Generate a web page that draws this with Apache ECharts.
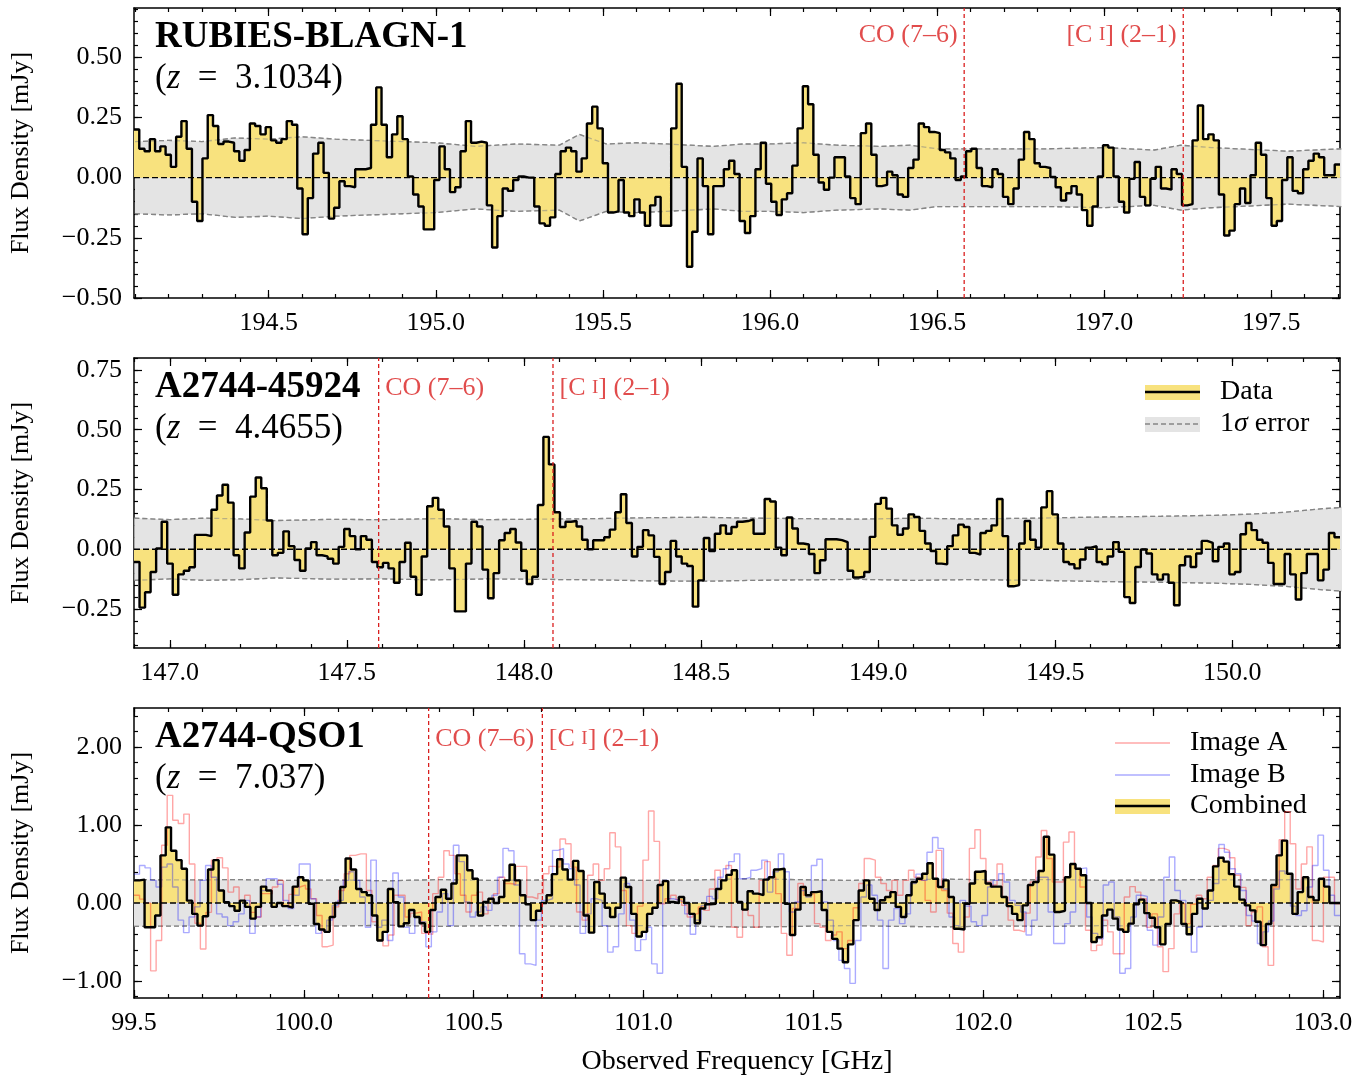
<!DOCTYPE html>
<html>
<head>
<meta charset="utf-8">
<script src="https://cdn.jsdelivr.net/npm/echarts@6/dist/echarts.min.js"></script>
<style>
  html, body { margin: 0; padding: 0; background: #fff; }
  #chart { width: 1366px; height: 1079px; }
</style>
</head>
<body>
<div id="chart"></div>
<script>
// rest frequencies (GHz) of the marked lines
const REST_CO76 = 806.6518;
const REST_CI21 = 809.3420;

// ---- panel 1 : RUBIES-BLAGN-1 ----
const P1_FLUX = [
  0.20, 0.12, 0.11, 0.16, 0.11, 0.13, 0.095, 0.045, 0.17, 0.235, 0.12, -0.10, -0.18, 0.08, 0.26, 0.215,
  0.14, 0.15, 0.145, 0.11, 0.07, 0.115, 0.225, 0.215, 0.18, 0.21, 0.155, 0.145, 0.16, 0.235, 0.22, -0.045,
  -0.235, -0.085, 0.10, 0.145, 0.02, -0.17, -0.125, -0.015, -0.035, -0.04, 0.035, 0.035, 0.04, 0.22, 0.375,
  0.22, 0.085, 0.18, 0.255, 0.16, 0.005, -0.07, -0.12, -0.215, -0.215, -0.01,
  0.13, 0.035, -0.06, -0.04, 0.11, 0.235, 0.145, 0.15, 0.145, -0.115, -0.29, -0.16, -0.045, -0.055, -0.01,
  0.005, 0.0, 0.0, -0.12, -0.19, -0.20, -0.165, 0.015, 0.11, 0.125, 0.11, 0.025, 0.08, 0.225, 0.295, 0.205,
  0.06, -0.145, -0.14, -0.01, -0.145, -0.16, -0.09, -0.145, -0.20, -0.115, -0.08, -0.20, -0.20, 0.205, 0.39,
  0.045, -0.37, -0.225, 0.08, -0.035, -0.235, -0.035, -0.035, 0.035, 0.07, 0.015, -0.18,
  -0.23, -0.16, 0.035, 0.145, -0.025, -0.10, -0.155, -0.09, -0.065, 0.05, 0.205, 0.38, 0.305, 0.095, -0.02,
  -0.05, 0.0, 0.085, 0.085, 0.005, -0.085, -0.11, 0.185, 0.225, 0.095, -0.035, -0.03, 0.025, 0.01, -0.07,
  -0.08, 0.04, 0.075, 0.225, 0.21, 0.19, 0.185, 0.115, 0.105, 0.08, -0.01, 0.005, 0.11, 0.12, 0.04, -0.035,
  -0.04, 0.035, 0.015, -0.08, -0.11, -0.045, 0.075, 0.19, 0.16, 0.06, 0.045,
  0.04, 0.003, -0.04, -0.095, -0.065, -0.035, -0.07, -0.135, -0.20, -0.12, 0.005, 0.135, 0.125, 0.005, -0.10,
  -0.145, -0.005, 0.065, -0.08, -0.115, -0.005, 0.045, -0.045, -0.05, 0.035, 0.015, -0.115, -0.11, 0.155,
  0.30, 0.16, 0.18, 0.155, -0.07, -0.24, -0.22, -0.11, -0.045, -0.105, 0.01, 0.145, 0.095, -0.085, -0.20,
  -0.18, -0.01, 0.085, -0.055, -0.065, 0.035, 0.07, 0.10, 0.085, 0.01, 0.01, 0.055
];
const P1_SIG_FREQ = [194.10, 194.20, 194.30, 194.40, 194.50, 194.60, 194.70, 194.80, 194.90, 195.00, 195.12,
  195.24, 195.37, 195.43, 195.51, 195.60, 195.69, 195.83, 195.92, 196.00, 196.10, 196.20, 196.33, 196.42,
  196.50, 196.65, 196.83, 197.00, 197.15, 197.23, 197.32, 197.40, 197.55, 197.71];
const P1_SIG = [0.15, 0.155, 0.15, 0.165, 0.16, 0.17, 0.16, 0.155, 0.15, 0.145, 0.13, 0.14, 0.135, 0.18,
  0.14, 0.145, 0.14, 0.13, 0.14, 0.14, 0.145, 0.135, 0.13, 0.135, 0.12, 0.12, 0.12, 0.125, 0.115, 0.135,
  0.125, 0.12, 0.11, 0.12];
const P1_XTICKS = [194.5, 195.0, 195.5, 196.0, 196.5, 197.0, 197.5];
const P1_YTICKS = [-0.5, -0.25, 0, 0.25, 0.5];

// ---- panel 2 : A2744-45924 ----
const P2_FLUX = [
  -0.053, -0.244, -0.18, -0.095, 0.003, 0.115, -0.06, -0.19, -0.105, -0.09, -0.075, 0.06, 0.06, 0.055, 0.165,
  0.225, 0.27, 0.195, -0.025, -0.08, 0.07, 0.22, 0.30, 0.255, 0.12, -0.025, -0.015, 0.075, 0.013, -0.045,
  -0.09, 0.003, 0.03, -0.025, -0.03, -0.04, -0.06, 0.01, 0.085, 0.055, 0.0, 0.055, 0.04, -0.053, -0.075,
  -0.057, -0.08, -0.14, -0.053, 0.027, -0.115, -0.19, -0.03, 0.18, 0.215,
  0.165, 0.095, -0.08, -0.26, -0.26, -0.06, 0.115, 0.095, -0.085, -0.205, -0.10, 0.038, 0.068, 0.085, 0.028,
  -0.09, -0.145, -0.115, 0.185, 0.47, 0.355, 0.155, 0.093, 0.115, 0.118, 0.095, 0.04, 0.0, 0.038, 0.038,
  0.05, 0.082, 0.155, 0.23, 0.11, -0.03, 0.01, 0.08, 0.058, -0.032, -0.145, -0.095, 0.035, -0.03, -0.06,
  -0.07, -0.24, -0.13, 0.047, -0.008, 0.065, 0.10, 0.065, 0.093, 0.115,
  0.118, 0.125, 0.065, 0.065, 0.21, 0.20, 0.007, -0.025, 0.133, 0.087, 0.024, 0.02, -0.02, -0.10, -0.046,
  0.042, 0.042, 0.038, 0.03, -0.09, -0.118, -0.115, -0.095, 0.052, 0.19, 0.215, 0.17, 0.10, 0.061, 0.087,
  0.146, 0.135, 0.077, 0.024, -0.007, -0.06, -0.063, 0.013, 0.058, 0.103, 0.093, -0.015, -0.022, 0.068,
  0.077, 0.10, 0.21, 0.055, -0.155, -0.15, 0.024, 0.118, 0.04, 0.007, 0.175,
  0.243, 0.146, 0.024, -0.053, -0.063, -0.08, -0.043, 0.007, 0.013, -0.053, -0.063, -0.03, 0.03, -0.011,
  -0.2, -0.225, -0.074, -0.001, -0.018, -0.105, -0.127, -0.105, -0.14, -0.234, -0.067, -0.03, -0.074,
  -0.018, 0.035, 0.027, -0.05, 0.01, 0.024, -0.105, -0.095, 0.063, 0.11, 0.08, 0.04, 0.027, -0.057, -0.145,
  -0.145, -0.02, -0.105, -0.21, -0.10, -0.02, -0.02, -0.13, -0.085, 0.068, 0.05
];
const P2_SIG_FREQ = [146.90, 147.00, 147.10, 147.20, 147.30, 147.45, 147.60, 147.75, 147.90, 148.05, 148.20,
  148.35, 148.50, 148.65, 148.80, 148.95, 149.10, 149.25, 149.45, 149.63, 149.80, 149.95, 150.05, 150.15,
  150.24, 150.31];
const P2_SIG = [0.13, 0.124, 0.13, 0.127, 0.12, 0.125, 0.124, 0.128, 0.124, 0.126, 0.128, 0.132, 0.134,
  0.13, 0.128, 0.126, 0.13, 0.127, 0.13, 0.135, 0.138, 0.142, 0.147, 0.155, 0.168, 0.175];
const P2_XTICKS = [147.0, 147.5, 148.0, 148.5, 149.0, 149.5, 150.0];
const P2_YTICKS = [-0.25, 0, 0.25, 0.5, 0.75];

// ---- panel 3 : A2744-QSO1 ----
const P3_COMB = [
  0.29, 0.30, -0.31, -0.31, -0.16, 0.61, 0.97, 0.67, 0.55, 0.44, 0.03, -0.14, -0.29, -0.17, 0.43, 0.55, 0.16,
  0.01, -0.04, -0.10, 0.03, -0.05, -0.20, -0.05, 0.21, 0.16, -0.05, 0.0, -0.04, -0.06, 0.21, 0.33, 0.29,
  -0.01, -0.27, -0.34, -0.37, -0.18, 0.0, 0.205, 0.57, 0.43, 0.18, 0.14, 0.10, -0.16, -0.48, -0.37, 0.18,
  0.01, -0.30, -0.26, -0.09, -0.18, -0.26, -0.37, -0.09,
  0.077, 0.17, 0.055, 0.25, 0.61, 0.61, 0.42, 0.31, -0.16, 0.013, 0.055, 0.0, 0.077, 0.29, 0.49, 0.29, 0.10,
  -0.017, -0.22, -0.10, 0.0, 0.10, 0.37, 0.56, 0.43, 0.30, 0.54, 0.41, -0.16, -0.38, 0.27, 0.12, -0.06,
  -0.18, -0.06, 0.325, 0.205, -0.14, -0.43, -0.37, -0.14, -0.06, 0.23, 0.28, 0.013, 0.0, 0.077, 0.0, -0.14,
  -0.26, -0.07, -0.017, -0.01, 0.18, 0.29, 0.36, 0.42,
  0.013, -0.085, 0.15, 0.12, 0.10, 0.30, 0.33, 0.43, 0.44, -0.01, -0.41, -0.085, 0.205, 0.10, 0.14, 0.15,
  -0.09, -0.37, -0.46, -0.585, -0.76, -0.53, -0.22, 0.16, 0.29, 0.055, -0.09, 0.035, 0.077, 0.14, -0.05,
  -0.18, 0.10, 0.27, 0.31, 0.375, 0.51, 0.31, 0.205, 0.29, 0.077, -0.33, -0.34, -0.01, 0.25, 0.40, 0.41,
  0.25, 0.21, 0.21, 0.077, -0.04, -0.14, -0.22, -0.03, 0.23, 0.27, 0.41,
  0.85, 0.62, -0.115, -0.10, 0.33, 0.50, 0.44, 0.355, 0.0, -0.50, -0.44, -0.16, -0.085, -0.20, -0.34, -0.37,
  -0.265, -0.017, 0.043, -0.13, -0.19, -0.31, -0.53, -0.27, 0.034, 0.013, -0.27, -0.40, -0.14, 0.055, -0.07,
  0.16, 0.47, 0.58, 0.53, 0.37, 0.21, 0.043, -0.03, -0.094, -0.24, -0.54, -0.27, 0.23, 0.61, 0.80, 0.375,
  -0.14, 0.14, 0.33, 0.077, 0.034, 0.31, 0.21, 0.0, 0.0
];
const P3_IMGA = [
  0.10, 0.05, 0.0, -0.87, -0.48, 0.74, 1.38, 1.06, 1.02, 1.14, 0.50, -0.26, -0.59, -0.12, 0.55, 0.58, 0.45,
  0.14, 0.205, 0.03, 0.10, -0.12, -0.18, 0.12, 0.12, 0.205, 0.29, -0.03, 0.11, 0.205, 0.23, 0.18, 0.055,
  -0.16, -0.56, -0.54, -0.05, 0.16, 0.375, 0.61, 0.63, 0.63, 0.16, -0.24, -0.47, -0.55, -0.41, 0.10, 0.10,
  -0.18, -0.13, -0.115, -0.39, -0.40,
  0.12, 0.33, 0.67, 0.61, 0.375, 0.10, -0.115, 0.10, 0.14, -0.14, 0.055, 0.12, 0.33, 0.25, 0.24, 0.47, 0.47,
  0.077, 0.055, 0.12, 0.375, 0.47, 0.46, 0.82, 0.76, 0.46, -0.115, -0.22, 0.355, 0.50, 0.29, 0.44, 0.90,
  0.72, 0.16, -0.29, -0.39, -0.04, 0.55, 1.18, 0.79, -0.01, 0.055, 0.10, 0.043, -0.03, -0.18, -0.14, -0.05,
  -0.094, 0.18, 0.42, 0.29, 0.48,
  -0.31, -0.44, -0.094, -0.16, -0.31, 0.29, 0.53, 0.33, 0.12, -0.39, -0.67, -0.07, 0.25, 0.10, 0.12, -0.265,
  -0.31, -0.48, -0.41, -0.37, -0.585, -0.48, -0.06, 0.25, 0.57, 0.55, 0.33, 0.25, 0.16, 0.29, 0.10, 0.29,
  0.42, 0.33, 0.29, 0.034, -0.115, 0.675, 0.16, -0.13, -0.52, -0.63, -0.18, 0.70, 0.94, 0.57, 0.27, 0.23,
  0.50, 0.077, -0.22, -0.35, -0.37, -0.13, 0.27, 0.59, 0.93,
  0.57, 0.27, 0.27, 0.78, 0.91, 0.44, 0.205, -0.35, -0.61, -0.54, -0.22, -0.37, -0.65, -0.65, 0.077, 0.21,
  0.14, 0.055, -0.31, -0.14, -0.56, -0.88, -0.585, -0.14, -0.01, -0.265, -0.017, 0.10, 0.055, 0.33, 0.48,
  0.70, 0.675, 0.58, 0.355, 0.20, -0.29, -0.115, -0.05, -0.56, -0.80, 0.205, 0.81, 1.17, 0.76, 0.18, 0.50,
  0.72, -0.48, -0.50, 0.33, 0.33, -0.01
];
const P3_IMGB = [
  0.37, 0.48, 0.45, 0.29, 0.205, 0.46, 0.50, 0.205, -0.22, -0.38, -0.18, -0.05, 0.29, 0.48, 0.33, -0.14,
  -0.18, -0.29, -0.24, -0.14, 0.034, -0.39, -0.18, 0.16, 0.31, 0.31, 0.24, 0.034, -0.07, 0.10, 0.50, 0.50,
  0.055, -0.39, -0.35, -0.22, -0.03, 0.034, 0.29, 0.40, 0.29, 0.077, -0.31, 0.55, -0.31, -0.22, -0.48,
  0.385, 0.077, -0.31, -0.39, -0.18, -0.24, -0.56,
  -0.37, -0.115, 0.12, -0.29, 0.74, 0.53, 0.013, -0.18, -0.115, -0.05, -0.094, 0.10, 0.33, 0.70, 0.67, 0.23,
  -0.65, -0.78, -0.80, -0.22, 0.034, 0.055, 0.675, 0.70, 0.50, 0.44, 0.23, -0.39, -0.14, 0.055, 0.034,
  -0.29, -0.63, -0.56, -0.14, 0.25, -0.22, -0.61, -0.47, -0.31, -0.78, -0.90, 0.29, 0.055, 0.034, 0.013,
  -0.14, -0.40, -0.22, -0.03, 0.085, 0.055, 0.33, 0.44, 0.53, 0.63,
  0.31, 0.33, 0.42, 0.44, 0.55, 0.14, 0.40, 0.63, 0.40, -0.115, 0.013, 0.16, 0.077, 0.48, 0.56, 0.013,
  -0.22, -0.48, -0.735, -0.84, -1.03, -0.48, 0.077, 0.23, 0.10, -0.22, -0.84, -0.22, -0.07, -0.265, -0.14,
  0.25, 0.37, 0.29, 0.65, 0.84, 0.70, 0.18, -0.18, -0.29, 0.034, -0.04, -0.24, -0.29, -0.16, 0.205, 0.29,
  0.375, 0.27, 0.034, -0.03, -0.115, -0.41, -0.22, 0.33, 0.33,
  -0.115, -0.52, -0.52, -0.265, -0.115, 0.44, 0.45, -0.18, -0.39, -0.46, 0.23, 0.27, -0.18, -0.90, -0.84,
  -0.18, 0.10, 0.085, -0.35, -0.54, -0.18, 0.33, 0.59, 0.16, 0.034, -0.31, -0.63, -0.31, -0.07, 0.034, 0.25,
  0.75, 0.65, 0.44, 0.375, 0.16, -0.16, -0.23, -0.52, -0.37, -0.23, 0.18, 0.41, 0.375, -0.04, -0.16, -0.10,
  0.205, 0.48, 0.87, 0.42, 0.10, -0.16
];
const P3_SIG_FREQ = [99.50, 99.65, 99.80, 99.95, 100.10, 100.25, 100.40, 100.55, 100.70, 100.85, 101.00,
  101.15, 101.30, 101.45, 101.60, 101.75, 101.90, 102.05, 102.20, 102.35, 102.50, 102.65, 102.80, 102.95, 103.05];
const P3_SIG = [0.30, 0.295, 0.30, 0.29, 0.295, 0.285, 0.30, 0.29, 0.295, 0.30, 0.29, 0.295, 0.31, 0.30,
  0.29, 0.30, 0.305, 0.295, 0.30, 0.29, 0.295, 0.30, 0.295, 0.30, 0.295];
const P3_XTICKS = [99.5, 100.0, 100.5, 101.0, 101.5, 102.0, 102.5, 103.0];
const P3_YTICKS = [-1, 0, 1, 2];

const FONT = 'Liberation Serif';
const YELLOW = '#f8e27e';
const BAND = '#e4e4e4';
const RED = '#d91f1f';
const ERRLINE = '#858585';

const panels = [
  { name: 'RUBIES-BLAGN-1', z: '3.1034', top: 8, xMin: 194.097, xMax: 197.706, yMin: -0.5, yMax: 0.705,
    flux: P1_FLUX, sigF: P1_SIG_FREQ, sig: P1_SIG, xt: P1_XTICKS, yt: P1_YTICKS, yMinorStep: 0.05,
    labelY: 0.594, labelSide: 'left' },
  { name: 'A2744-45924', z: '4.4655', top: 358, xMin: 146.899, xMax: 150.304, yMin: -0.413, yMax: 0.80,
    flux: P2_FLUX, sigF: P2_SIG_FREQ, sig: P2_SIG, xt: P2_XTICKS, yt: P2_YTICKS, yMinorStep: 0.05,
    labelY: 0.675, labelSide: 'right' },
  { name: 'A2744-QSO1', z: '7.037', top: 708, xMin: 99.5, xMax: 103.05, yMin: -1.218, yMax: 2.5,
    flux: P3_COMB, sigF: P3_SIG_FREQ, sig: P3_SIG, xt: P3_XTICKS, yt: P3_YTICKS, yMinorStep: 0.2,
    labelY: 2.10, labelSide: 'right', imgA: P3_IMGA, imgB: P3_IMGB }
];

function steps(vals, lo, hi) {
  const w = (hi - lo) / vals.length;
  const out = vals.map((v, i) => [lo + i * w, v]);
  out.push([hi, vals[vals.length - 1]]);
  return out;
}
function minorVals(lo, hi, step) {
  const out = [];
  for (let k = Math.ceil(lo / step - 1e-9); k * step <= hi + 1e-9; k++) out.push(+(k * step).toFixed(4));
  return out;
}
const fmtY = v => (v < 0 ? '\u2212' : '') + Math.abs(v).toFixed(2);
const lineSt = { color: '#000', width: 1.2 };

const grids = [], xAxes = [], yAxes = [], series = [], graphics = [];

panels.forEach((p, gi) => {
  grids.push({ left: 130, top: p.top, width: 1210, height: 290 });
  const xMinor = minorVals(p.xMin, p.xMax, 0.1);
  const yMinor = minorVals(p.yMin, p.yMax, p.yMinorStep);
  const xb = { gridIndex: gi, type: 'value', min: p.xMin, max: p.xMax, splitLine: { show: false } };
  const yb = { gridIndex: gi, type: 'value', min: p.yMin, max: p.yMax, splitLine: { show: false } };
  xAxes.push(
    Object.assign({}, xb, { position: 'bottom',
      axisLine: { show: true, onZero: false, lineStyle: { color: '#000', width: 1.5 } },
      axisTick: { inside: true, length: 8, customValues: p.xt, lineStyle: lineSt },
      axisLabel: { customValues: p.xt, formatter: v => v.toFixed(1), margin: 12,
        fontFamily: FONT, fontSize: 26, color: '#000' },
      name: gi === 2 ? 'Observed Frequency [GHz]' : '', nameLocation: 'middle', nameGap: 50,
      nameTextStyle: { fontFamily: FONT, fontSize: 28, color: '#000' } }),
    Object.assign({}, xb, { position: 'bottom', axisLine: { show: false, onZero: false },
      axisTick: { inside: true, length: 4, customValues: xMinor, lineStyle: lineSt }, axisLabel: { show: false } }),
    Object.assign({}, xb, { position: 'top',
      axisLine: { show: true, onZero: false, lineStyle: { color: '#000', width: 1.5 } },
      axisTick: { inside: true, length: 8, customValues: p.xt, lineStyle: lineSt }, axisLabel: { show: false } }),
    Object.assign({}, xb, { position: 'top', axisLine: { show: false, onZero: false },
      axisTick: { inside: true, length: 4, customValues: xMinor, lineStyle: lineSt }, axisLabel: { show: false } })
  );
  yAxes.push(
    Object.assign({}, yb, { position: 'left',
      axisLine: { show: true, onZero: false, lineStyle: { color: '#000', width: 1.5 } },
      axisTick: { inside: true, length: 8, customValues: p.yt, lineStyle: lineSt },
      axisLabel: { customValues: p.yt, formatter: fmtY, margin: 12, fontFamily: FONT, fontSize: 26, color: '#000' },
      name: 'Flux Density [mJy]', nameLocation: 'middle', nameGap: 100,
      nameTextStyle: { fontFamily: FONT, fontSize: 26, color: '#000' } }),
    Object.assign({}, yb, { position: 'left', axisLine: { show: false, onZero: false },
      axisTick: { inside: true, length: 4, customValues: yMinor, lineStyle: lineSt }, axisLabel: { show: false } }),
    Object.assign({}, yb, { position: 'right',
      axisLine: { show: true, onZero: false, lineStyle: { color: '#000', width: 1.5 } },
      axisTick: { inside: true, length: 8, customValues: p.yt, lineStyle: lineSt }, axisLabel: { show: false } }),
    Object.assign({}, yb, { position: 'right', axisLine: { show: false, onZero: false },
      axisTick: { inside: true, length: 4, customValues: yMinor, lineStyle: lineSt }, axisLabel: { show: false } })
  );

  const ax = { xAxisIndex: gi * 4, yAxisIndex: gi * 4, symbol: 'none', silent: true, animation: false };
  // 1 sigma band: each half filled to zero, dashed edges
  [1, -1].forEach(s => series.push(Object.assign({}, ax, { type: 'line', z: 1,
    data: p.sigF.map((f, k) => [f, s * p.sig[k]]),
    lineStyle: { color: ERRLINE, width: 1.3, type: [5, 3] },
    areaStyle: { color: BAND, opacity: 1, origin: 0 } })));

  const fluxData = steps(p.flux, p.xMin, p.xMax);
  series.push(Object.assign({}, ax, { type: 'line', step: 'end', z: 3, data: fluxData,
    lineStyle: { opacity: 0 }, areaStyle: { color: YELLOW, opacity: 1, origin: 0 } }));
  // dashed band edges drawn again above the yellow fill
  [1, -1].forEach(s => series.push(Object.assign({}, ax, { type: 'line', z: 3,
    data: p.sigF.map((f, k) => [f, s * p.sig[k]]),
    lineStyle: { color: ERRLINE, width: 1.3, type: [5, 3], opacity: 0.55 } })));
  if (p.imgA) {
    series.push(Object.assign({}, ax, { type: 'line', step: 'end', z: 4, data: steps(p.imgA, p.xMin, p.xMax),
      lineStyle: { color: 'rgba(255,0,0,0.35)', width: 1.4 } }));
    series.push(Object.assign({}, ax, { type: 'line', step: 'end', z: 4, data: steps(p.imgB, p.xMin, p.xMax),
      lineStyle: { color: 'rgba(0,0,255,0.33)', width: 1.4 } }));
  }
  series.push(Object.assign({}, ax, { type: 'line', z: 5, data: [[p.xMin, 0], [p.xMax, 0]],
    lineStyle: { color: '#000', width: 1.3, type: [6, 3] } }));
  series.push(Object.assign({}, ax, { type: 'line', step: 'end', z: 6, data: fluxData,
    lineStyle: { color: '#000', width: 2.4 } }));

  // redshifted CO(7-6) and [CI](2-1)
  const zz = parseFloat(p.z);
  const lines = [
    { f: REST_CO76 / (1 + zz), text: 'CO (7\u20136)' },
    { f: REST_CI21 / (1 + zz), text: '[C {sc|I}] (2\u20131)' }
  ];
  lines.forEach(l => {
    series.push(Object.assign({}, ax, { type: 'line', z: 7, data: [[l.f, p.yMin], [l.f, p.yMax]],
      lineStyle: { color: RED, width: 1.3, type: [4, 3] } }));
    series.push(Object.assign({}, ax, { type: 'scatter', z: 8, symbol: 'circle', symbolSize: 1,
      itemStyle: { color: 'rgba(0,0,0,0)' }, data: [[l.f, p.labelY]],
      label: { show: true, position: p.labelSide, distance: 6, formatter: l.text,
        color: RED, fontFamily: FONT, fontSize: 26,
        rich: { sc: { color: RED, fontFamily: FONT, fontSize: 19 } } } }));
  });

  // panel titles
  graphics.push({ type: 'text', x: 155, y: p.top + 29, style: { text: p.name, fill: '#000',
    fontFamily: FONT, fontWeight: 'bold', fontSize: 37, verticalAlign: 'middle', textVerticalAlign: 'middle' } });
  graphics.push({ type: 'text', x: 155, y: p.top + 71, style: { text: '({i|z}\u2002=\u2002' + p.z + ')',
    fill: '#000', fontFamily: FONT, fontSize: 35, verticalAlign: 'middle', textVerticalAlign: 'middle',
    rich: { i: { fontFamily: FONT, fontSize: 35, fontStyle: 'italic', fill: '#000' } } } });
});

// legends
function legendText(x, y, text, rich) {
  return { type: 'text', x: x, y: y, style: { text: text, fill: '#000', fontFamily: FONT, fontSize: 28,
    verticalAlign: 'middle', textVerticalAlign: 'middle', rich: rich || {} } };
}
graphics.push(
  { type: 'rect', shape: { x: 1145, y: 385, width: 55, height: 15 }, style: { fill: YELLOW } },
  { type: 'line', shape: { x1: 1145, y1: 392, x2: 1200, y2: 392 }, style: { stroke: '#000', lineWidth: 2.5 } },
  legendText(1220, 392, 'Data'),
  { type: 'rect', shape: { x: 1145, y: 417, width: 55, height: 15 }, style: { fill: BAND } },
  { type: 'line', shape: { x1: 1145, y1: 424, x2: 1200, y2: 424 },
    style: { stroke: ERRLINE, lineWidth: 1.3, lineDash: [5, 3] } },
  legendText(1220, 424, '1{i|\u03c3} error', { i: { fontFamily: FONT, fontSize: 28, fontStyle: 'italic', fill: '#000' } }),
  { type: 'line', shape: { x1: 1115, y1: 743, x2: 1170, y2: 743 }, style: { stroke: 'rgba(255,0,0,0.35)', lineWidth: 1.4 } },
  legendText(1190, 743, 'Image A'),
  { type: 'line', shape: { x1: 1115, y1: 775, x2: 1170, y2: 775 }, style: { stroke: 'rgba(0,0,255,0.33)', lineWidth: 1.4 } },
  legendText(1190, 775, 'Image B'),
  { type: 'rect', shape: { x: 1115, y: 799, width: 55, height: 15 }, style: { fill: YELLOW } },
  { type: 'line', shape: { x1: 1115, y1: 806, x2: 1170, y2: 806 }, style: { stroke: '#000', lineWidth: 2.5 } },
  legendText(1190, 806, 'Combined')
);

const chart = echarts.init(document.getElementById('chart'));
chart.setOption({
  animation: false,
  backgroundColor: '#fff',
  grid: grids,
  xAxis: xAxes,
  yAxis: yAxes,
  series: series,
  graphic: graphics
});
window.addEventListener('resize', () => chart.resize());
</script>
</body>
</html>
